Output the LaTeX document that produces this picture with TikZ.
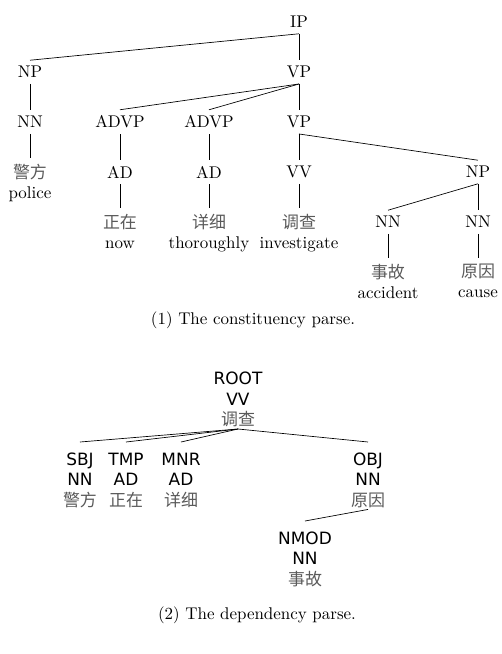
\documentclass[tikz,border=0pt]{standalone}
\usepackage{fontspec}
\newfontfamily\cjk{Noto Sans CJK SC}[Color=5A5A5A]
\newfontfamily\depfont{DejaVu Sans}
\newcommand\uprule{\rule{0pt}{12.6pt}}

\tikzset{
    leaf/.style={align=center, anchor=north},
    dep/.style={font=\depfont, align=center, anchor=north, inner sep=1pt},
}

\begin{document}
\begin{tikzpicture}[x=0.59pt, y=-0.59pt] %Arbol de constituyentes y de dependencias
            \useasboundingbox (0,0) rectangle (502,654);

            \node (ip) at (299,22) {IP};
            \node (np) at (30,72) {NP};
            \node (vp) at (299,72) {VP};
            \node (nn) at (30,122) {NN};
            \node (advpa) at (120,122) {ADVP};
            \node (advpb) at (209,122) {ADVP};
            \node (vpb) at (299,122) {VP};
            \node[leaf] (police) at (30,158) {{\cjk 警方}\\police};
            \node (ada) at (120,172) {AD};
            \node (adb) at (209,172) {AD};
            \node (vv) at (299,172) {VV};
            \node (npb) at (478,172) {NP};
            \node[leaf] (now) at (120,208) {{\cjk 正在}\\now};
            \node[leaf] (thoroughly) at (209,208) {{\cjk 详细}\\thoroughly};
            \node[leaf] (investigate) at (299,208) {{\cjk 调查}\\investigate};
            \node (nnb) at (388,222) {NN};
            \node (nnc) at (478,222) {NN};
            \node[leaf] (accident) at (388,258) {{\cjk 事故}\\accident};
            \node[leaf] (cause) at (478,258) {{\cjk 原因}\\cause};

            \draw (ip.south) -- (np.north);
            \draw (ip.south) -- (vp.north);
            \draw (np.south) -- (nn.north);
            \draw (vp.south) -- (advpa.north);
            \draw (vp.south) -- (advpb.north);
            \draw (vp.south) -- (vpb.north);
            \draw (nn.south) -- (police.north);
            \draw (advpa.south) -- (ada.north);
            \draw (advpb.south) -- (adb.north);
            \draw (vpb.south) -- (vv.north);
            \draw (vpb.south) -- (npb.north);
            \draw (ada.south) -- (now.north);
            \draw (adb.south) -- (thoroughly.north);
            \draw (vv.south) -- (investigate.north);
            \draw (npb.south) -- (nnb.north);
            \draw (npb.south) -- (nnc.north);
            \draw (nnb.south) -- (accident.north);
            \draw (nnc.south) -- (cause.north);

            \node (capa) at (253,320) {(1) The constituency parse.};

            %Arbol de dependencias
            \node[dep, anchor=south] (root) at (238,429) {ROOT\\VV\\{\cjk 调查}};
            \node[dep] (sbj) at (80,442) {\uprule SBJ\\NN\\{\cjk 警方}};
            \node[dep] (tmp) at (126,442) {\uprule TMP\\AD\\{\cjk 正在}};
            \node[dep] (mnr) at (181,442) {\uprule MNR\\AD\\{\cjk 详细}};
            \node[dep] (obj) at (368,442) {\uprule OBJ\\NN\\{\cjk 原因}};
            \node[dep] (nmod) at (305,521) {\uprule NMOD\\NN\\{\cjk 事故}};

            \draw (root.south) -- (sbj.north);
            \draw (root.south) -- (tmp.north);
            \draw (root.south) -- (mnr.north);
            \draw (root.south) -- (obj.north);
            \draw (obj.south) -- (nmod.north);

            \node (capb) at (257,615) {(2) The dependency parse.};
        \end{tikzpicture}
\end{document}
